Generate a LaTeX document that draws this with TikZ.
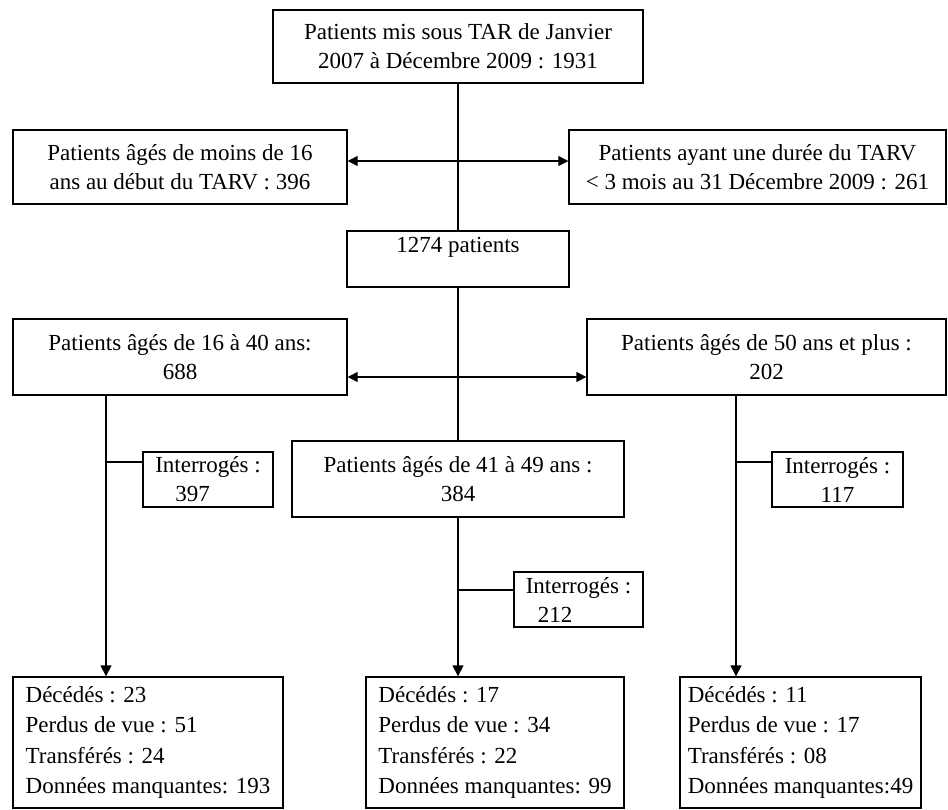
\documentclass[tikz,border=0pt]{standalone}
\usepackage{fontspec}
\setmainfont{Liberation Serif}
\usepackage{tikz}
\usetikzlibrary{arrows.meta}

\begin{document}
\begin{tikzpicture}[x=1pt, y=-1pt,
  box/.style={draw, line width=1.4pt, align=center, inner sep=0pt, font=\fontsize{23}{29}\selectfont},
  list/.style={box, align=left, font=\fontsize{23}{30.5}\selectfont},
  link/.style={line width=1.4pt},
  both/.style={link, {Triangle[length=10pt,width=10pt]}-{Triangle[length=10pt,width=10pt]}},
  down/.style={link, -{Triangle[length=11pt,width=11pt]}},
]

\useasboundingbox (0,0) rectangle (948,809);

\coordinate (ua) at (458,161);
\coordinate (la) at (458,377);

\coordinate (lj) at (106,462);
\coordinate (rj) at (736,462);
\coordinate (mj) at (458,590);

\node[box, minimum width=370pt, minimum height=73pt] (start) at (458,46.5) {Patients mis sous TAR de Janvier\\2007 à Décembre 2009 : 1931};

\node[box, minimum width=334pt, minimum height=74pt] (young) at (180,167) {Patients âgés de moins de 16\\ans au début du TARV : 396};
\node[box, minimum width=377pt, minimum height=74pt] (short) at (757.5,167) {Patients ayant une durée du TARV\\< 3 mois au 31 Décembre 2009 : 261};

\node[box, minimum width=222pt, minimum height=56pt] (kept) at (458,259) {1274 patients\\\mbox{}};

\node[box, minimum width=334pt, minimum height=76pt] (ageA) at (180,357) {Patients âgés de 16 à 40 ans:\\688};
\node[box, minimum width=359pt, minimum height=76pt] (ageC) at (766.5,357) {Patients âgés de 50 ans et plus :\\202};
\node[box, minimum width=332pt, minimum height=76pt] (ageB) at (458,479) {Patients âgés de 41 à 49 ans :\\384};

\node[box, align=left, minimum width=130pt, minimum height=55pt] (askA) at (208,479.5) {Interrogés :\\\hspace*{20pt}397};
\node[box, minimum width=131pt, minimum height=55pt] (askC) at (837.5,479.5) {Interrogés :\\117};
\node[box, align=left, minimum width=129pt, minimum height=55pt] (askB) at (578.5,599.5) {Interrogés :\\\hspace*{12pt}212};

\node[list, minimum width=270pt, minimum height=131pt] (outA) at (148,742.5) {Décédés : 23\\Perdus de vue : 51\\Transférés : 24\\Données manquantes: 193};
\node[list, minimum width=258pt, minimum height=131pt] (outB) at (495,742.5) {Décédés : 17\\Perdus de vue : 34\\Transférés : 22\\Données manquantes: 99};
\node[list, minimum width=241pt, minimum height=131pt] (outC) at (800.5,742.5) {Décédés : 11\\Perdus de vue : 17\\Transférés : 08\\Données manquantes:49};

\draw[link] (start.south) -- (kept.north);
\draw[both] (young.east |- ua) -- (short.west |- ua);

\draw[link] (kept.south) -- (ageB.north);
\draw[both] (ageA.east |- la) -- (ageC.west |- la);

\draw[down] (ageA.south -| lj) -- (outA.north -| lj);
\draw[link] (lj) -- (lj -| askA.west);

\draw[down] (ageB.south) -- (outB.north -| ageB.south);
\draw[link] (mj) -- (mj -| askB.west);

\draw[down] (ageC.south -| rj) -- (outC.north -| rj);
\draw[link] (rj) -- (rj -| askC.west);

\end{tikzpicture}
\end{document}
